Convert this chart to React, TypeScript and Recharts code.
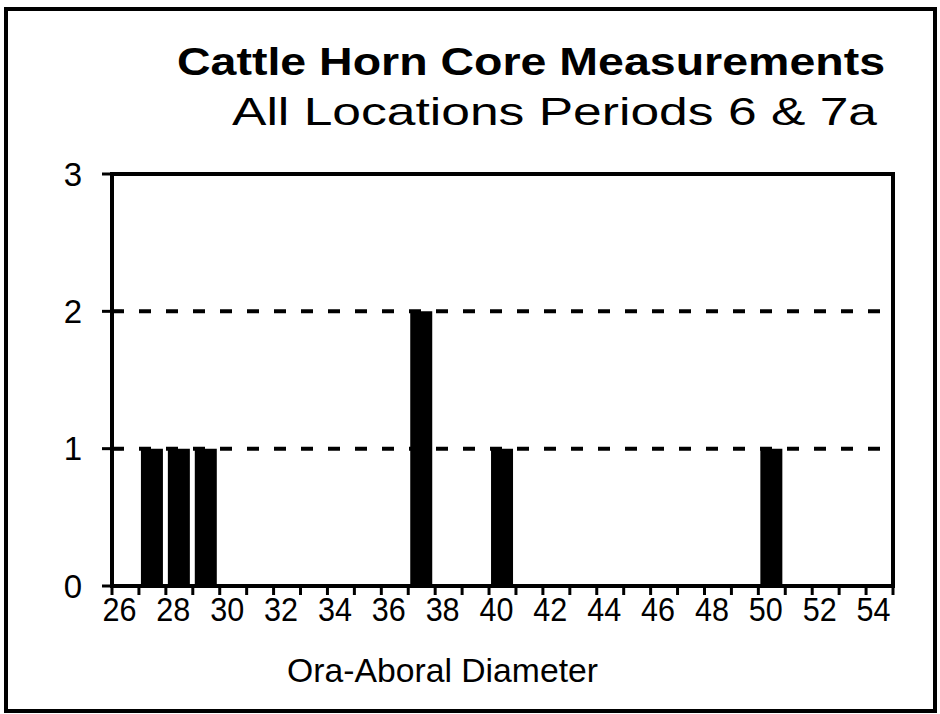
import { BarChart, Bar, XAxis, YAxis, CartesianGrid, usePlotArea } from 'recharts'

const FONT = '"Liberation Sans", Arial, Helvetica, sans-serif'

// diameter classes (mm) and number of horn cores in each
const diameters = [
  26, 27, 28, 29, 30, 31, 32, 33, 34, 35, 36, 37, 38, 39, 40,
  41, 42, 43, 44, 45, 46, 47, 48, 49, 50, 51, 52, 53, 54,
]
const counts = [
  0, 1, 1, 1, 0, 0, 0, 0, 0, 0, 0, 2, 0, 0, 1,
  0, 0, 0, 0, 0, 0, 0, 0, 0, 1, 0, 0, 0, 0,
]
const yTicks = [0, 1, 2, 3]

const title = 'Cattle Horn Core Measurements'
const subtitle = 'All Locations Periods 6 & 7a'
const xTitle = 'Ora-Aboral Diameter'

const data = diameters.map((d, i) => ({ d, n: counts[i] }))

const X_MARGIN = 11
const Y_SIZE = 10
const Y_GAP = 20

// tick marks on the class boundaries, label every second class
function XTick(props: any) {
  const { x, y, payload } = props
  const half = payload.offset ?? 0
  const axisY = y - X_MARGIN
  const last = payload.value === diameters[diameters.length - 1]
  return (
    <g>
      <line x1={x - half} x2={x - half} y1={axisY} y2={axisY + 9} stroke="#000" strokeWidth={3} />
      {last && <line x1={x + half} x2={x + half} y1={axisY} y2={axisY + 9} stroke="#000" strokeWidth={3} />}
      {payload.value % 2 === 0 && (
        <text
          x={x - 6}
          y={y}
          dy="0.71em"
          textAnchor="middle"
          fill="#000"
          fontSize={34}
          fontFamily={FONT}
          textLength={34}
          lengthAdjust="spacingAndGlyphs"
        >
          {payload.value}
        </text>
      )}
    </g>
  )
}

// y ticks cross the axis
function YTick(props: any) {
  const { x, y, payload } = props
  const axisX = x + Y_SIZE + Y_GAP
  return (
    <g>
      <line x1={axisX - Y_SIZE} x2={axisX + Y_SIZE} y1={y} y2={y} stroke="#000" strokeWidth={3} />
      <text x={x} y={y} dy="0.355em" textAnchor="end" fill="#000" fontSize={33} fontFamily={FONT}>
        {payload.value}
      </text>
    </g>
  )
}

function PlotFrame() {
  const area = usePlotArea()
  if (!area) return null
  return <rect x={area.x} y={area.y} width={area.width} height={area.height} fill="none" stroke="#000" strokeWidth={4} />
}

export default function App() {
  return (
    <div style={{ position: 'absolute', left: 0, top: 0, width: 940, height: 714, background: '#fff', overflow: 'hidden' }}>
      <div
        style={{
          position: 'absolute',
          left: 4,
          top: 7,
          width: 933,
          height: 706,
          border: '4px solid #000',
          boxSizing: 'border-box',
        }}
      />
      <BarChart
        width={940}
        height={714}
        data={data}
        margin={{ top: 174, right: 47, left: 0, bottom: 78 }}
        barSize={22}
      >
        <CartesianGrid vertical={false} stroke="#000" strokeWidth={4} strokeDasharray="12 15" />
        <XAxis
          dataKey="d"
          interval={0}
          axisLine={false}
          tickLine={false}
          tickSize={0}
          tickMargin={X_MARGIN}
          tick={<XTick />}
          height={50}
        />
        <YAxis
          domain={[0, 3]}
          ticks={yTicks}
          width={112}
          axisLine={false}
          tickLine={false}
          tickSize={Y_SIZE}
          tickMargin={Y_GAP}
          tick={<YTick />}
        />
        <Bar dataKey="n" fill="#000" isAnimationActive={false} />
        <PlotFrame />
      </BarChart>
      <svg width={940} height={714} style={{ position: 'absolute', left: 0, top: 0, pointerEvents: 'none' }}>
        <text x={177} y={75} fontFamily={FONT} fontWeight="bold" fontSize={38} textLength={708} lengthAdjust="spacingAndGlyphs">
          {title}
        </text>
        <text x={232} y={125} fontFamily={FONT} fontSize={39} textLength={645} lengthAdjust="spacingAndGlyphs">
          {subtitle}
        </text>
        <text x={287} y={682} fontFamily={FONT} fontSize={34} textLength={311} lengthAdjust="spacingAndGlyphs">
          {xTitle}
        </text>
      </svg>
    </div>
  )
}
